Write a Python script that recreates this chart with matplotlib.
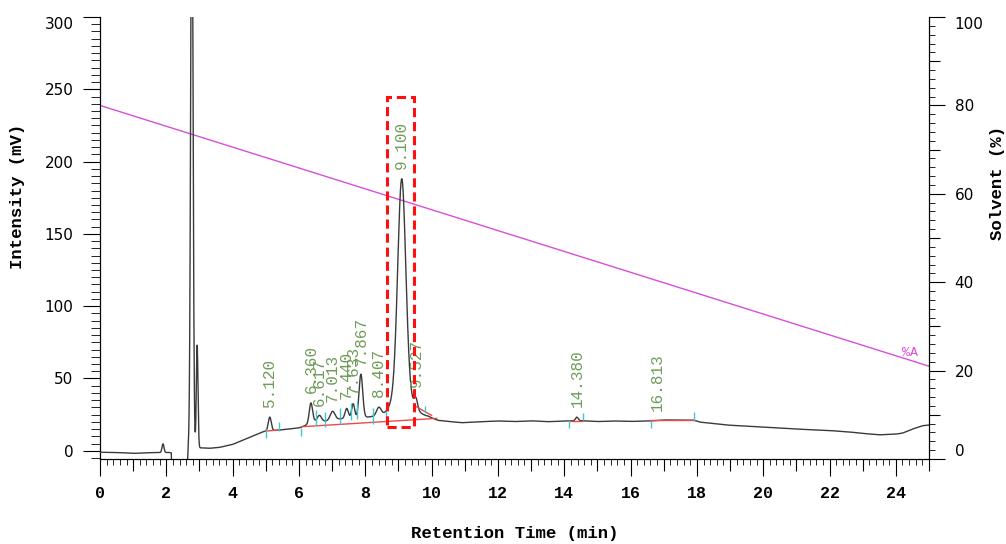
import numpy as np
import matplotlib
matplotlib.use("Agg")
import matplotlib.pyplot as plt
from matplotlib.patches import Rectangle

# baseline of the detector signal (min, mV)
base_t = [0.0, 0.5, 1.0, 1.5, 2.1, 2.15, 2.18, 2.6, 2.66, 3.1, 3.3, 3.6, 4.0, 4.5, 4.9,
          5.0, 5.4, 6.0, 6.2, 6.5, 6.8, 7.2, 7.6, 8.2, 8.6, 9.0, 9.3, 9.7, 9.9, 10.2,
          10.9, 11.4, 12.0, 12.5, 13.0, 13.5, 14.0, 14.5, 15.0, 15.5, 16.0, 16.6, 17.0,
          17.9, 18.1, 18.9, 19.5, 20.0, 21.0, 22.0, 22.6, 23.0, 23.5, 24.0, 24.2, 24.5,
          24.8, 25.0]
base_mv = [-1.0, -1.2, -1.8, -1.3, -1.2, -1.5, -30.0, -30.0, 2.0, 2.0, 1.7, 2.3, 4.4, 9.2, 13.0,
           13.6, 14.3, 15.8, 17.5, 20.5, 20.5, 22.0, 22.5, 23.5, 22.5, 23.0, 23.5, 23.5, 23.5, 21.0,
           19.4, 20.0, 20.6, 20.2, 20.7, 20.1, 20.6, 20.8, 20.2, 20.6, 20.3, 20.6, 21.3,
           21.2, 19.8, 17.8, 17.0, 16.4, 15.0, 14.0, 13.0, 12.0, 11.0, 11.5, 12.2, 15.0,
           17.3, 17.8]

# peak table: retention time (min), height above baseline (mV), width sigma (min)
peak_rt = [1.90, 2.77, 2.93, 5.12, 6.36, 6.617, 7.013, 7.44, 7.633, 7.867, 8.407, 9.10, 9.10, 9.527, 14.38]
peak_h = [6.0, 420.0, 71.0, 9.5, 14.0, 4.0, 6.0, 7.0, 10.0, 30.0, 6.0, 148.0, 17.0, 7.0, 2.5]
peak_sd = [0.03, 0.035, 0.025, 0.045, 0.05, 0.06, 0.07, 0.05, 0.045, 0.055, 0.07, 0.12, 0.30, 0.05, 0.04]

# integrated peaks that get a retention time label
label_rt = [5.120, 6.360, 6.617, 7.013, 7.440, 7.633, 7.867, 8.407, 9.100, 9.527, 14.380, 16.813]
label_txt = ["5.120", "6.360", "6.617", "7.013", "7.440", "7.633", "7.867", "8.407",
             "9.100", "9.527", "14.380", "16.813"]

# integration baselines (t0, mV0, t1, mV1)
int_base = [(5.0, 13.6, 5.37, 14.3), (6.08, 16.6, 10.15, 22.4), (9.50, 31.0, 10.0, 24.5),
            (14.17, 20.7, 14.55, 20.7), (16.6, 21.2, 17.9, 21.2)]

# peak start / end markers (min, low mV, high mV)
mark_t = [5.0, 5.4, 6.05, 6.51, 6.8, 7.24, 7.56, 7.76, 8.22, 8.61, 9.8, 14.15, 14.57, 16.62, 17.9]
mark_lo = [8.8, 13.8, 10.2, 17.1, 16.2, 18.5, 21.2, 21.7, 18.5, 20.0, 25.9, 15.5, 21.2, 15.5, 20.7]
mark_hi = [15.0, 20.1, 15.7, 28.1, 27.0, 29.5, 33.0, 33.2, 29.5, 30.0, 30.9, 21.2, 26.3, 20.7, 27.0]

# solvent gradient %A
grad_t = [0.0, 25.0]
grad_pct = [80.0, 21.0]

# highlighted region around the main peak (min, mV)
box_t = (8.66, 9.48)
box_mv = (16.2, 244.8)

mono = "Liberation Mono"

t = np.linspace(0, 25, 5001)
signal = np.interp(t, base_t, base_mv)
for rt, h, sd in zip(peak_rt, peak_h, peak_sd):
    signal += h * np.exp(-(t - rt) ** 2 / (2 * sd ** 2))

fig = plt.figure(figsize=(10.06, 5.44), dpi=100)
ax = fig.add_axes([100 / 1006, 85 / 544, 829 / 1006, 442 / 544])
ax2 = ax.twinx()
ax.set_zorder(ax2.get_zorder() + 1)
ax.patch.set_visible(False)

ax.plot(t, signal, color="#3a3a3a", lw=1.0, zorder=3)

for t0, y0, t1, y1 in int_base:
    ax.plot([t0, t1], [y0, y1], color="#f04848", lw=1.0, zorder=4)

ax.vlines(mark_t, mark_lo, mark_hi, color="#3cc8d0", lw=1.0, zorder=5)

for rt, txt in zip(label_rt, label_txt):
    top = signal[np.abs(t - rt) <= 0.03].max()
    ax.annotate(txt, (rt, top), xytext=(0, 7), textcoords="offset points",
                rotation=90, ha="center", va="bottom", color="#6f9c58",
                fontfamily=mono, fontsize=11.5, zorder=6)

ax.add_patch(Rectangle((box_t[0], box_mv[0]), box_t[1] - box_t[0], box_mv[1] - box_mv[0],
                       fill=False, edgecolor="#ff1010", lw=2.2, ls=(0, (3, 1.6)), zorder=7))

ax2.plot(grad_t, grad_pct, color="#d84fd8", lw=1.0)
ax2.annotate("%A", (24.42, np.interp(24.42, grad_t, grad_pct)), xytext=(0, 1),
             textcoords="offset points", ha="center", va="bottom", color="#d84fd8",
             fontfamily=mono, fontsize=9.5)

ax.set_xlim(0, 25)
ax.set_ylim(-5.7, 300)
ax2.set_ylim(0, 100)

for a in (ax, ax2):
    a.spines["top"].set_visible(False)

# x axis: labels every 2 min, ticks every 1 and every 0.2
ax.set_xticks(np.arange(0, 26, 1))
ax.set_xticklabels([str(v) if v % 2 == 0 else "" for v in range(26)],
                   fontfamily=mono, fontweight="bold", fontsize=12)
ax.set_xticks(np.arange(0, 25.01, 0.2), minor=True)
ax.tick_params(axis="x", which="major", length=12.2, pad=7)
ax.tick_params(axis="x", which="minor", length=4.3)

ax.set_yticks(np.arange(0, 301, 50))
ax.set_yticks(np.arange(-5, 301, 5), minor=True)
ax.tick_params(axis="y", which="major", length=12.2, pad=7, labelsize=11)
ax.tick_params(axis="y", which="minor", length=6.5)

ax2.set_yticks(np.arange(0, 101, 10))
ax2.set_yticklabels([str(v) if v % 20 == 0 else "" for v in range(0, 101, 10)])
ax2.set_yticks(np.arange(0, 101, 2), minor=True)
ax2.tick_params(axis="y", which="major", length=11.5, pad=7, labelsize=11)
ax2.tick_params(axis="y", which="minor", length=4.3)

ax.set_xlabel("Retention Time (min)", fontfamily=mono, fontweight="bold", fontsize=12.5)
ax.xaxis.set_label_coords(0.5, -0.152)
ax.set_ylabel("Intensity (mV)", fontfamily=mono, fontweight="bold", fontsize=12.5)
ax.yaxis.set_label_coords(-0.090, 0.595)
ax2.set_ylabel("Solvent (%)", fontfamily=mono, fontweight="bold", fontsize=12.5)
ax2.yaxis.set_label_coords(1.073, 0.624)

# odd minutes get a medium-length tick
for v, tk in zip(range(26), ax.xaxis.get_major_ticks()):
    if v % 2:
        tk.tick1line.set_markersize(8.6)
for v, tk in zip(range(0, 101, 10), ax2.yaxis.get_major_ticks()):
    if v % 20:
        tk.tick2line.set_markersize(7.9)

# end labels are pulled inside the frame
ax.get_yticklabels()[-1].set_va("top")
ax2.get_yticklabels()[-1].set_va("top")
ax2.get_yticklabels()[0].set_va("bottom")

fig.savefig("out.png", dpi=100)
